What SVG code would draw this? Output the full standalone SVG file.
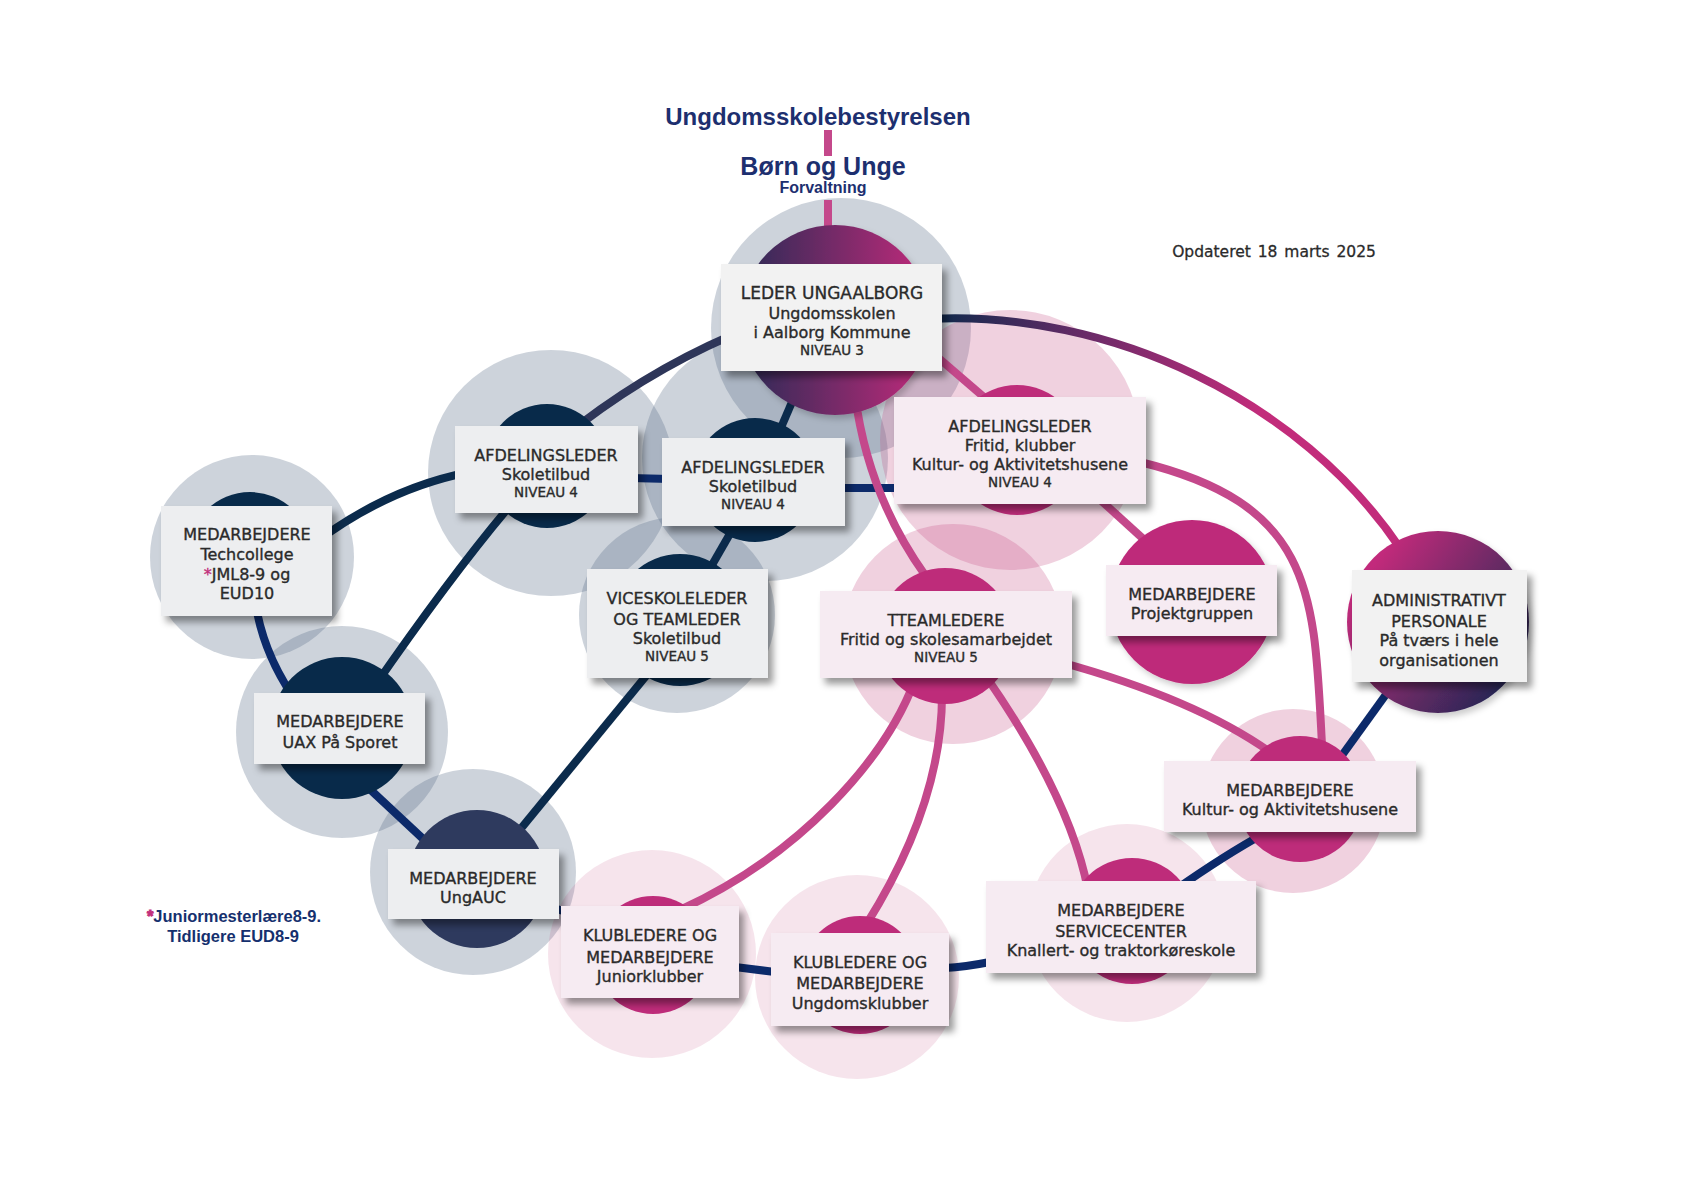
<svg xmlns="http://www.w3.org/2000/svg" width="1684" height="1191" viewBox="0 0 1684 1191">
<defs>
<style>
.lbl{font-family:"DejaVu Sans","Liberation Sans",sans-serif;fill:#2a2a2a;stroke:#2a2a2a;stroke-width:0.35px;text-anchor:middle;font-size:16px}
.t17{font-size:17px}
.niv{font-size:13.5px}
.ttl{font-family:"Liberation Sans",Arial,sans-serif;font-weight:bold;fill:#1d2f6f;text-anchor:middle}
.foot{font-family:"Liberation Sans",Arial,sans-serif;font-weight:bold;fill:#15306e;text-anchor:middle;font-size:16.5px}
.star{fill:#c2307c;stroke:#c2307c}
.date{font-family:"DejaVu Sans","Liberation Sans",sans-serif;fill:#2a2a2a;stroke:#2a2a2a;stroke-width:0.3px;text-anchor:middle;font-size:15.5px;word-spacing:2px}
.hg{fill:#586c87;fill-opacity:.3}
.hp{fill:#c2487f;fill-opacity:.25}
.hp2{fill:#c2487f;fill-opacity:.15}
.dk{fill:#082a4a}
.sl{fill:#2e3a5e}
.mg{fill:#be2c7a}
.bg{fill:#edeef0;filter:url(#sh)}
.bp{fill:#f6ebf2;filter:url(#sh)}
.bw{fill:#f2f2f2;filter:url(#sh)}
.ln{fill:none;stroke-width:8}
.ldk{stroke:#0b2b4c}
.lbl2{stroke:#0c2a6a}
.lsl{stroke:#2e3659}
.lpk{stroke:#c4488b}
</style>
<linearGradient id="gLeder" gradientUnits="userSpaceOnUse" x1="740" y1="0" x2="930" y2="0">
<stop offset="0" stop-color="#2a2a55"/><stop offset="1" stop-color="#c22c7b"/>
</linearGradient>
<linearGradient id="gAdmin" x1="0.1" y1="0.25" x2="0.95" y2="0.85">
<stop offset="0" stop-color="#c22c7b"/><stop offset="0.5" stop-color="#6e2b66"/><stop offset="1" stop-color="#1c2552"/>
</linearGradient>
<linearGradient id="gArc" gradientUnits="userSpaceOnUse" x1="945" y1="0" x2="1260" y2="0">
<stop offset="0" stop-color="#13294d"/><stop offset="0.45" stop-color="#6a2b68"/><stop offset="1" stop-color="#c22c7b"/>
</linearGradient>
<filter id="sh" x="-15%" y="-15%" width="140%" height="150%">
<feDropShadow dx="5" dy="6" stdDeviation="3.5" flood-color="#000" flood-opacity="0.4"/>
</filter>
<filter id="shc" x="-15%" y="-15%" width="140%" height="140%">
<feDropShadow dx="3" dy="4" stdDeviation="3" flood-color="#000" flood-opacity="0.2"/>
</filter>
</defs>
<rect width="1684" height="1191" fill="#ffffff"/>

<!-- title -->
<g id="title">
<text class="ttl" x="818" y="125" font-size="24">Ungdomsskolebestyrelsen</text>
<text class="ttl" x="823" y="175" font-size="25">Børn og Unge</text>
<text class="ttl" x="823" y="193" font-size="16">Forvaltning</text>
</g>
<text class="date" x="1274" y="257">Opdateret 18 marts 2025</text>
<g id="footnote">
<text class="foot" x="234" y="922"><tspan class="star">*</tspan>Juniormesterlære8-9.</text>
<text class="foot" x="233" y="942">Tidligere EUD8-9</text>
</g>

<!-- halos -->
<g id="halos">
<circle class="hg" cx="841" cy="328" r="130"/>
<circle class="hg" cx="551" cy="473" r="123"/>
<circle class="hg" cx="765" cy="458" r="123"/>
<circle class="hg" cx="252" cy="557" r="102"/>
<circle class="hg" cx="677" cy="615" r="98"/>
<circle class="hg" cx="342" cy="732" r="106"/>
<circle class="hg" cx="473" cy="872" r="103"/>
<circle class="hp" cx="1010" cy="440" r="130"/>
<circle class="hp" cx="953" cy="634" r="110"/>
<circle class="hp" cx="1293" cy="801" r="92"/>
<circle class="hp2" cx="652" cy="954" r="104"/>
<circle class="hp2" cx="857" cy="977" r="102"/>
<circle class="hp2" cx="1127" cy="923" r="99"/>
</g>

<!-- connectors -->
<g id="connectors">
<path class="ln lpk" d="M828 130 L828 156"/>
<path class="ln lpk" d="M828 200 L828 240"/>
<path class="ln ldk" d="M470 472 Q387 488 312 545"/>
<path class="ln ldk" d="M515 500 Q455 570 372 690"/>
<path class="ln lsl" d="M560 440 Q640 375 730 336"/>
<path class="ln lbl2" d="M630 478 L670 479"/>
<path class="ln lbl2" d="M840 488 L900 488"/>
<path class="ln ldk" d="M780 430 L795 395"/>
<path class="ln ldk" d="M735 525 L712 565"/>
<path class="ln ldk" d="M655 665 L505 848"/>
<path class="ln lbl2" d="M255 600 Q262 650 292 695"/>
<path class="ln lbl2" d="M360 780 L435 850"/>
<path class="ln lbl2" d="M545 905 L575 915"/>
<path class="ln lbl2" d="M735 967 L775 972"/>
<path class="ln lbl2" d="M945 968 Q965 967 990 962"/>
<path class="ln lbl2" d="M1175 890 Q1225 855 1265 833"/>
<path class="ln lbl2" d="M1335 765 L1395 682"/>
<path class="ln lpk" d="M935 355 L985 398"/>
<path class="ln lpk" d="M855 395 Q868 495 925 575"/>
<path class="ln lpk" d="M1095 495 L1150 545"/>
<path class="ln lpk" d="M1140 462 C1316 505 1314 595 1322 745"/>
<path class="ln" stroke="url(#gArc)" d="M930 319 C1110 310 1300 400 1400 548"/>
<path class="ln lpk" d="M1060 662 Q1195 699 1270 752"/>
<path class="ln lpk" d="M915 680 C885 760 800 855 680 910"/>
<path class="ln lpk" d="M942 695 Q942 804 866 925"/>
<path class="ln lpk" d="M985 675 Q1070 797 1088 890"/>
</g>

<!-- nodes -->
<g id="node-leder">
<circle cx="835" cy="320" r="95" fill="url(#gLeder)" filter="url(#shc)"/>
<rect class="bw" x="721" y="264" width="221" height="107"/>
<text class="lbl t17" x="832" y="299">LEDER UNGAALBORG</text>
<text class="lbl" x="832" y="319">Ungdomsskolen</text>
<text class="lbl" x="832" y="338">i Aalborg Kommune</text>
<text class="lbl niv" x="832" y="355">NIVEAU 3</text>
</g>

<g id="node-afd-skole-1">
<circle class="dk" cx="547" cy="466" r="62"/>
<rect class="bg" x="455" y="426" width="183" height="87"/>
<text class="lbl" x="546" y="461">AFDELINGSLEDER</text>
<text class="lbl" x="546" y="480">Skoletilbud</text>
<text class="lbl niv" x="546" y="497">NIVEAU 4</text>
</g>

<g id="node-afd-skole-2">
<circle class="dk" cx="755" cy="480" r="62"/>
<rect class="bg" x="662" y="438" width="183" height="88"/>
<text class="lbl" x="753" y="473">AFDELINGSLEDER</text>
<text class="lbl" x="753" y="492">Skoletilbud</text>
<text class="lbl niv" x="753" y="509">NIVEAU 4</text>
</g>

<g id="node-techcollege">
<circle class="dk" cx="250" cy="554" r="62"/>
<rect class="bg" x="161" y="506" width="171" height="110"/>
<text class="lbl" x="247" y="540">MEDARBEJDERE</text>
<text class="lbl" x="247" y="560">Techcollege</text>
<text class="lbl" x="247" y="580"><tspan class="star">*</tspan>JML8-9 og</text>
<text class="lbl" x="247" y="599">EUD10</text>
</g>

<g id="node-vice">
<circle class="dk" cx="680" cy="620" r="66"/>
<rect class="bg" x="587" y="569" width="181" height="109"/>
<text class="lbl" x="677" y="604">VICESKOLELEDER</text>
<text class="lbl" x="677" y="625">OG TEAMLEDER</text>
<text class="lbl" x="677" y="644">Skoletilbud</text>
<text class="lbl niv" x="677" y="661">NIVEAU 5</text>
</g>

<g id="node-uax">
<circle class="dk" cx="342" cy="728" r="71"/>
<rect class="bg" x="254" y="693" width="171" height="71"/>
<text class="lbl" x="340" y="727">MEDARBEJDERE</text>
<text class="lbl" x="340" y="748">UAX På Sporet</text>
</g>

<g id="node-ungauc">
<circle class="sl" cx="477" cy="879" r="69"/>
<rect class="bg" x="388" y="849" width="171" height="70"/>
<text class="lbl" x="473" y="884">MEDARBEJDERE</text>
<text class="lbl" x="473" y="903">UngAUC</text>
</g>

<g id="node-afd-fritid">
<circle class="mg" cx="1017" cy="450" r="65"/>
<rect class="bp" x="894" y="397" width="252" height="107"/>
<text class="lbl" x="1020" y="432">AFDELINGSLEDER</text>
<text class="lbl" x="1020" y="451">Fritid, klubber</text>
<text class="lbl" x="1020" y="470">Kultur- og Aktivitetshusene</text>
<text class="lbl niv" x="1020" y="487">NIVEAU 4</text>
</g>

<g id="node-teamledere">
<circle class="mg" cx="945" cy="636" r="68"/>
<rect class="bp" x="820" y="591" width="252" height="87"/>
<text class="lbl" x="946" y="626">TTEAMLEDERE</text>
<text class="lbl" x="946" y="645">Fritid og skolesamarbejdet</text>
<text class="lbl niv" x="946" y="662">NIVEAU 5</text>
</g>

<g id="node-projekt">
<circle class="mg" cx="1192" cy="602" r="82" filter="url(#shc)"/>
<rect class="bp" x="1106" y="565" width="171" height="71"/>
<text class="lbl" x="1192" y="600">MEDARBEJDERE</text>
<text class="lbl" x="1192" y="619">Projektgruppen</text>
</g>

<g id="node-admin">
<circle cx="1438" cy="622" r="91" fill="url(#gAdmin)" filter="url(#shc)"/>
<rect class="bw" x="1352" y="570" width="175" height="112"/>
<text class="lbl" x="1439" y="606">ADMINISTRATIVT</text>
<text class="lbl" x="1439" y="627">PERSONALE</text>
<text class="lbl" x="1439" y="646">På tværs i hele</text>
<text class="lbl" x="1439" y="666">organisationen</text>
</g>

<g id="node-kultur">
<circle class="mg" cx="1300" cy="799" r="63"/>
<rect class="bp" x="1164" y="761" width="252" height="71"/>
<text class="lbl" x="1290" y="796">MEDARBEJDERE</text>
<text class="lbl" x="1290" y="815">Kultur- og Aktivitetshusene</text>
</g>

<g id="node-service">
<circle class="mg" cx="1132" cy="921" r="63"/>
<rect class="bp" x="986" y="881" width="270" height="92"/>
<text class="lbl" x="1121" y="916">MEDARBEJDERE</text>
<text class="lbl" x="1121" y="937">SERVICECENTER</text>
<text class="lbl" x="1121" y="956">Knallert- og traktorkøreskole</text>
</g>

<g id="node-junior">
<circle class="mg" cx="653" cy="955" r="59"/>
<rect class="bp" x="561" y="906" width="178" height="92"/>
<text class="lbl" x="650" y="941">KLUBLEDERE OG</text>
<text class="lbl" x="650" y="963">MEDARBEJDERE</text>
<text class="lbl" x="650" y="982">Juniorklubber</text>
</g>

<g id="node-ungdom">
<circle class="mg" cx="860" cy="975" r="59"/>
<rect class="bp" x="771" y="933" width="178" height="93"/>
<text class="lbl" x="860" y="968">KLUBLEDERE OG</text>
<text class="lbl" x="860" y="989">MEDARBEJDERE</text>
<text class="lbl" x="860" y="1009">Ungdomsklubber</text>
</g>
</svg>
